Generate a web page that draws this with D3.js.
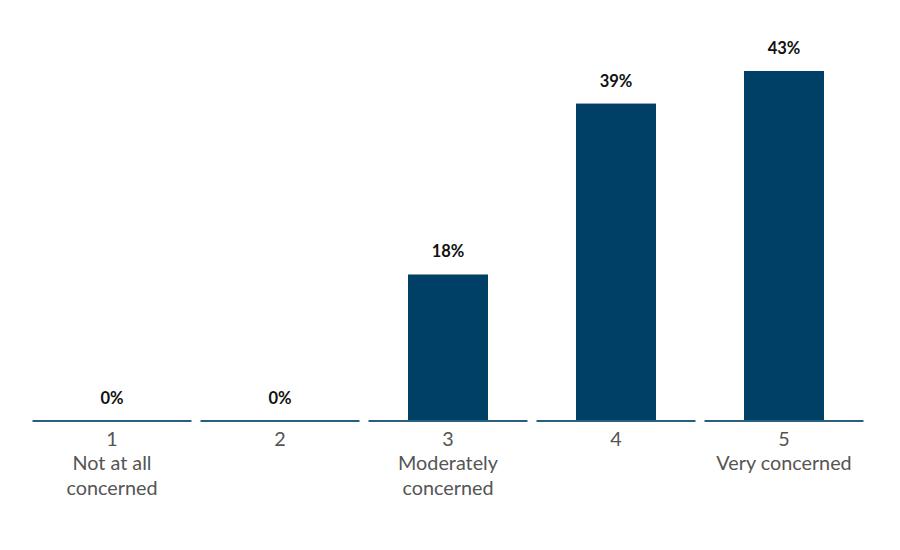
<!DOCTYPE html>
<html>
<head>
<meta charset="utf-8">
<script src="https://cdn.jsdelivr.net/npm/d3@7"></script>
<style>
  body { margin: 0; background: #fff; }
  text { font-family: Lato, "Open Sans", sans-serif; }
</style>
</head>
<body>
<svg id="chart" width="900" height="550"></svg>
<script>
// chart data
var categories = ['1', '2', '3', '4', '5']
var values = [0, 0, 18, 39, 43]
var categoryLabels = [
  ['1', 'Not at all', 'concerned'],
  ['2'],
  ['3', 'Moderately', 'concerned'],
  ['4'],
  ['5', 'Very concerned']
]

var svg = d3.select('#chart')
var baseline = 421

var x = d3.scaleBand().domain(categories).range([32.5, 863.5]).paddingInner(9 / 168)
var y = d3.scaleLinear().domain([0, 43]).range([baseline, 71])
var barWidth = 80

var data = categories.map(function (c, i) { return { cat: c, value: values[i], labels: categoryLabels[i] } })

// bars
svg.selectAll('.bar')
  .data(data.filter(function (d) { return d.value > 0 }))
  .join('rect')
  .attr('class', 'bar')
  .attr('x', function (d) { return x(d.cat) + x.bandwidth() / 2 - barWidth / 2 })
  .attr('y', function (d) { return y(d.value) })
  .attr('width', barWidth)
  .attr('height', function (d) { return baseline - y(d.value) })
  .attr('fill', '#003f66')

// axis segments, one per category
svg.selectAll('.seg')
  .data(data)
  .join('line')
  .attr('class', 'seg')
  .attr('x1', function (d) { return x(d.cat) })
  .attr('x2', function (d) { return x(d.cat) + x.bandwidth() })
  .attr('y1', baseline)
  .attr('y2', baseline)
  .attr('stroke', '#2b5f80')
  .attr('stroke-width', 2)

// value labels
svg.selectAll('.val')
  .data(data)
  .join('text')
  .attr('class', 'val')
  .attr('x', function (d) { return x(d.cat) + x.bandwidth() / 2 })
  .attr('y', function (d) { return y(d.value) - 17 })
  .attr('text-anchor', 'middle')
  .attr('font-size', 16.5)
  .attr('font-weight', 'bold')
  .attr('fill', '#111')
  .text(function (d) { return d.value + '%' })

// category labels
svg.selectAll('.cat')
  .data(data)
  .join('text')
  .attr('class', 'cat')
  .attr('text-anchor', 'middle')
  .attr('font-size', 19.8)
  .attr('fill', '#555')
  .attr('transform', function (d) { return 'translate(' + (x(d.cat) + x.bandwidth() / 2) + ',' + (baseline + 24.5) + ')' })
  .selectAll('tspan')
  .data(function (d) { return d.labels })
  .join('tspan')
  .attr('x', 0)
  .attr('y', function (d, i) { return i * 24.5 })
  .text(function (d) { return d })
</script>
</body>
</html>
